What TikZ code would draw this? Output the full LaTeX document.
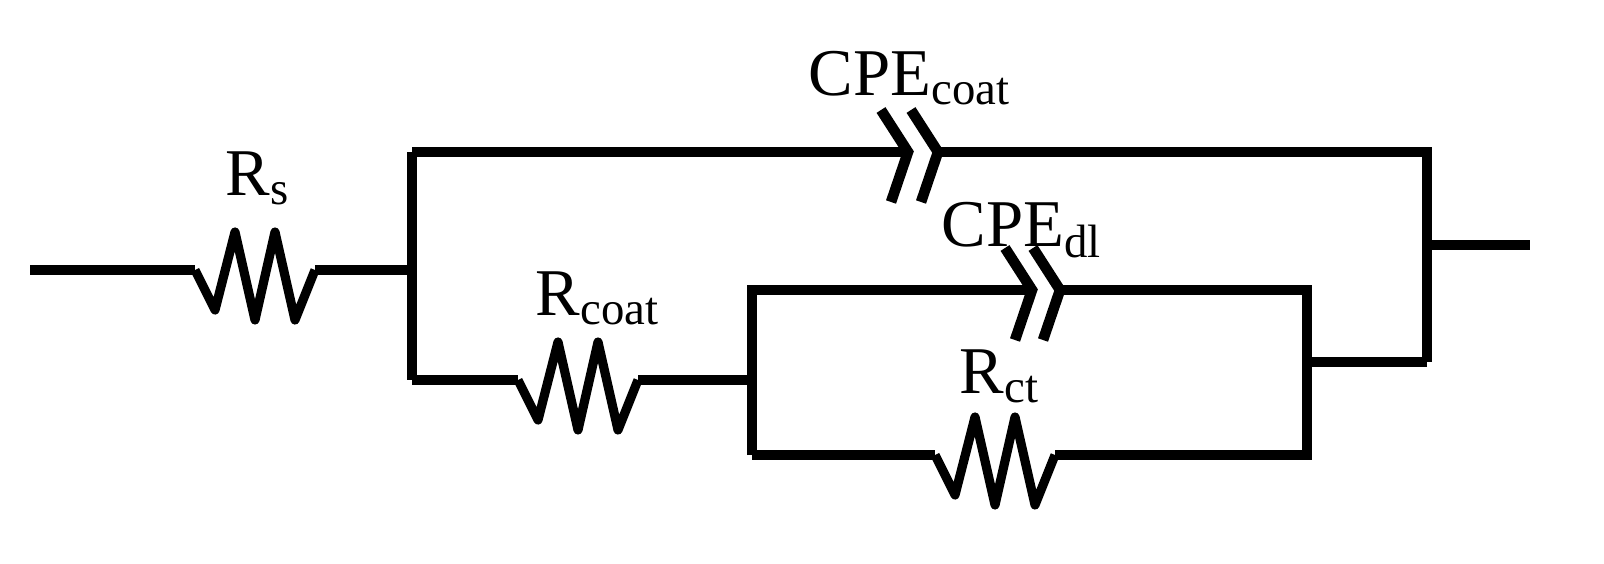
\documentclass[tikz,border=0pt]{standalone}
\usepackage{fontspec}
\setmainfont{Liberation Serif}
\usetikzlibrary{positioning}

\begin{document}
\begin{tikzpicture}[
        x=0.01cm, y=-0.01cm,
        wire/.style={draw, line width=2.6pt},
        resistor/.style={draw, line width=2.6pt, line join=round,
            to path={-- ++(20,40) -- ++(20,-78) -- ++(20,88) -- ++(20,-88) -- ++(20,88) -- (\tikztotarget)}},
        cpe/.style={draw, line width=3pt},
        lbl/.style={font=\fontsize{19}{22}\selectfont, inner sep=0pt}
    ]
    \useasboundingbox (0,0) rectangle (1604,564);

    % Nodes
    \coordinate (in) at (30,270);
    \coordinate (rs_a) at (195,270);
    \coordinate (rs_b) at (315,270);
    \coordinate (split) at (412,270);
    \coordinate (top_l) at (412,152);
    \coordinate (bot_l) at (412,380);
    \coordinate (cc_a) at (908,152);
    \coordinate (cc_b) at (938,152);
    \coordinate (top_r) at (1427,152);
    \coordinate (join_r) at (1427,245);
    \coordinate (out) at (1530,245);
    \coordinate (rc_a) at (518,380);
    \coordinate (rc_b) at (638,380);
    \coordinate (in_l) at (752,380);
    \coordinate (in_tl) at (752,290);
    \coordinate (in_bl) at (752,455);
    \coordinate (dl_a) at (1032,290);
    \coordinate (dl_b) at (1060,290);
    \coordinate (in_tr) at (1307,290);
    \coordinate (in_br) at (1307,455);
    \coordinate (in_r) at (1307,362);
    \coordinate (bot_r) at (1427,362);
    \coordinate (rt_a) at (935,455);
    \coordinate (rt_b) at (1055,455);

    \node (lbl_rs) [lbl] at (258,178) {R\textsubscript{s}};
    \node (lbl_cc) [lbl] at (910,78) {CPE\textsubscript{coat}};
    \node (lbl_rc) [lbl] at (598,298) {R\textsubscript{coat}};
    \node (lbl_dl) [lbl] at (1022,230) {CPE\textsubscript{dl}};
    \node (lbl_rt) [lbl] at (1000,376) {R\textsubscript{ct}};

    % Wires
    \draw [wire] (in) -- (rs_a);
    \draw [resistor] (rs_a) to (rs_b);
    \draw [wire] (rs_b) -- (split);
    \draw [wire] (top_l) -- (bot_l);
    \draw [wire] (top_l) -- (cc_a);
    \draw [wire] (cc_b) -- (top_r) -- (bot_r);
    \draw [wire] (join_r) -- (out);
    \draw [wire] (bot_l) -- (rc_a);
    \draw [resistor] (rc_a) to (rc_b);
    \draw [wire] (rc_b) -- (in_l);
    \draw [wire] (in_bl) -- (in_tl) -- (dl_a);
    \draw [wire] (dl_b) -- (in_tr) -- (in_br) -- (rt_b);
    \draw [resistor] (rt_a) to (rt_b);
    \draw [wire] (rt_a) -- (in_bl);
    \draw [wire] (in_r) -- (bot_r);

    % CPE elements
    \foreach \c in {cc_a, cc_b, dl_a, dl_b}
        \draw [cpe] ([shift={(-27,-42)}]\c) -- (\c) -- ([shift={(-17,50)}]\c);
\end{tikzpicture}
\end{document}
